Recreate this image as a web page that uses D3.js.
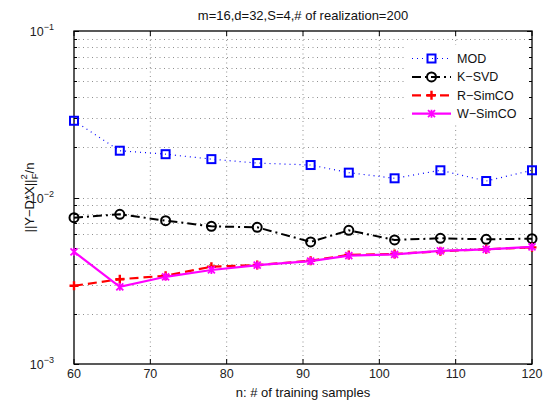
<!DOCTYPE html>
<html>
<head>
<meta charset="utf-8">
<script src="https://cdn.jsdelivr.net/npm/d3@7"></script>
<style>
  body { margin: 0; background: #fff; }
  svg { display: block; font-family: "Liberation Sans", Arial, sans-serif; }
</style>
</head>
<body>
<div id="chart"></div>
<script>
// chart data
const samples = [60, 66, 72, 78, 84, 91, 96, 102, 108, 114, 120];
const modErr = [0.0289, 0.0191, 0.0182, 0.0170, 0.0161, 0.01567, 0.0141, 0.01304, 0.01457, 0.01256, 0.01457];
const ksvdErr = [0.00756, 0.00793, 0.00726, 0.00671, 0.00662, 0.00541, 0.00635, 0.00556, 0.00569, 0.00561, 0.00566];
const rsimcoErr = [0.00295, 0.00323, 0.00339, 0.00384, 0.00393, 0.00417, 0.00452, 0.00458, 0.00475, 0.00489, 0.00502];
const wsimcoErr = [0.00472, 0.00291, 0.00334, 0.00367, 0.00392, 0.00415, 0.00448, 0.00455, 0.00478, 0.00488, 0.00505];
const xTicks = [60, 70, 80, 90, 100, 110, 120];
const yExps = [-3, -2, -1];
const seriesNames = ["MOD", "K\u2212SVD", "R\u2212SimCO", "W\u2212SimCO"];

const width = 552, height = 403;
const margin = {top: 31, right: 20, bottom: 39, left: 74};

const svg = d3.select("#chart").append("svg")
  .attr("width", width)
  .attr("height", height);

const x = d3.scaleLinear().domain([60, 120]).range([margin.left, width - margin.right]);
const y = d3.scaleLog().domain([1e-3, 1e-1]).range([height - margin.bottom, margin.top]);

const x0 = x.range()[0], x1 = x.range()[1];
const y0 = y.range()[0], y1 = y.range()[1];

// minor + major y values of the log axis
const yGrid = [];
for (let e = -3; e < -1; e++) {
  for (let k = 1; k <= 9; k++) yGrid.push(k * Math.pow(10, e));
}
yGrid.push(1e-1);

// grid (dotted, MATLAB style)
const grid = svg.append("g").attr("stroke", "#444").attr("stroke-width", 0.6).attr("stroke-dasharray", "1,3.5");
grid.selectAll(".gx").data(xTicks.slice(1, -1)).enter().append("line")
  .attr("x1", d => x(d)).attr("x2", d => x(d))
  .attr("y1", y1).attr("y2", y0);
grid.selectAll(".gy").data(yGrid.filter(d => d > 1e-3 && d < 1e-1)).enter().append("line")
  .attr("x1", x0).attr("x2", x1)
  .attr("y1", d => Math.round(y(d)) + 0.5).attr("y2", d => Math.round(y(d)) + 0.5);

// ticks on all sides (inside)
const ticks = svg.append("g").attr("stroke", "#000").attr("stroke-width", 1);
xTicks.forEach(t => {
  ticks.append("line").attr("x1", x(t)).attr("x2", x(t)).attr("y1", y0).attr("y2", y0 - 5);
  ticks.append("line").attr("x1", x(t)).attr("x2", x(t)).attr("y1", y1).attr("y2", y1 + 5);
});
yGrid.forEach(v => {
  const major = Math.abs(Math.log10(v) - Math.round(Math.log10(v))) < 1e-9;
  const len = major ? 5 : 3;
  const yy = Math.round(y(v)) + 0.5;
  ticks.append("line").attr("x1", x0).attr("x2", x0 + len).attr("y1", yy).attr("y2", yy);
  ticks.append("line").attr("x1", x1).attr("x2", x1 - len).attr("y1", yy).attr("y2", yy);
});

// box
svg.append("rect")
  .attr("x", x0).attr("y", y1)
  .attr("width", x1 - x0).attr("height", y0 - y1)
  .attr("fill", "none").attr("stroke", "#000").attr("stroke-width", 1.3);

// x tick labels
svg.append("g").selectAll("text").data(xTicks).enter().append("text")
  .attr("x", d => x(d)).attr("y", y0 + 14)
  .attr("text-anchor", "middle").attr("font-size", 12.5).attr("fill", "#222")
  .text(d => d);

// y tick labels (10^e)
const yl = svg.append("g").selectAll("text").data(yExps).enter().append("text")
  .attr("x", x0 - 20).attr("y", d => y(Math.pow(10, d)) + 5)
  .attr("text-anchor", "end").attr("font-size", 12.5).attr("fill", "#222");
yl.append("tspan").text("10");
yl.append("tspan").attr("dy", -6).attr("font-size", 9).text(d => "\u2212" + (-d));

// title & axis labels
svg.append("text").attr("x", (x0 + x1) / 2).attr("y", 20)
  .attr("text-anchor", "middle").attr("font-size", 13).attr("fill", "#111")
  .text("m=16,d=32,S=4,# of realization=200");
svg.append("text").attr("x", (x0 + x1) / 2).attr("y", 397)
  .attr("text-anchor", "middle").attr("font-size", 13).attr("fill", "#111")
  .text("n: # of training samples");
const ylab = svg.append("text")
  .attr("transform", "translate(34," + ((y0 + y1) / 2) + ") rotate(-90)")
  .attr("text-anchor", "middle").attr("font-size", 13).attr("fill", "#111");
ylab.append("tspan").text("||Y\u2212D*X||");
ylab.append("tspan").attr("dy", -7).attr("font-size", 9.5).text("2");
ylab.append("tspan").attr("dx", -5).attr("dy", 11).attr("font-size", 9.5).text("F");
ylab.append("tspan").attr("dy", -4).text("/n");

// series definitions
const series = [
  {name: seriesNames[0], values: modErr, color: "#0000ff", dash: "1,4", lw: 1.2, marker: "square"},
  {name: seriesNames[1], values: ksvdErr, color: "#000000", dash: "9,4,2,4", lw: 2, marker: "circle"},
  {name: seriesNames[2], values: rsimcoErr, color: "#ff0000", dash: "9,5", lw: 2.2, marker: "plus"},
  {name: seriesNames[3], values: wsimcoErr, color: "#ff00ff", dash: null, lw: 2.2, marker: "star"}
];

const line = d3.line().x(d => x(d[0])).y(d => y(d[1]));

function drawMarker(g, type, cx, cy, color) {
  if (type === "square") {
    g.append("rect").attr("x", cx - 4).attr("y", cy - 4).attr("width", 8).attr("height", 8)
      .attr("fill", "none").attr("stroke", color).attr("stroke-width", 2);
  } else if (type === "circle") {
    g.append("circle").attr("cx", cx).attr("cy", cy).attr("r", 4.5)
      .attr("fill", "none").attr("stroke", color).attr("stroke-width", 2);
  } else if (type === "plus") {
    g.append("path").attr("d", `M${cx - 4.5},${cy}H${cx + 4.5}M${cx},${cy - 4.5}V${cy + 4.5}`)
      .attr("stroke", color).attr("stroke-width", 2.4);
  } else {
    g.append("path").attr("d", `M${cx - 3.5},${cy - 3.5}L${cx + 3.5},${cy + 3.5}M${cx - 3.5},${cy + 3.5}L${cx + 3.5},${cy - 3.5}M${cx},${cy - 4}V${cy + 4}`)
      .attr("stroke", color).attr("stroke-width", 1.8);
  }
}

series.forEach(s => {
  const pts = samples.map((n, i) => [n, s.values[i]]);
  const g = svg.append("g");
  g.append("path").attr("d", line(pts))
    .attr("fill", "none").attr("stroke", s.color).attr("stroke-width", s.lw)
    .attr("stroke-dasharray", s.dash);
  pts.forEach(p => drawMarker(g, s.marker, x(p[0]), y(p[1]), s.color));
});

// legend
const legend = svg.append("g");
legend.append("rect").attr("x", 404).attr("y", 45).attr("width", 125).attr("height", 80).attr("fill", "#fff");
series.forEach((s, i) => {
  const ly = 58.5 + i * 18.4;
  legend.append("line").attr("x1", 412).attr("x2", 451).attr("y1", ly).attr("y2", ly)
    .attr("stroke", s.color).attr("stroke-width", s.lw).attr("stroke-dasharray", s.dash);
  drawMarker(legend, s.marker, 431.5, ly, s.color);
  legend.append("text").attr("x", 457).attr("y", ly + 4.5)
    .attr("font-size", 12.5).attr("fill", "#111").text(s.name);
});
</script>
</body>
</html>
